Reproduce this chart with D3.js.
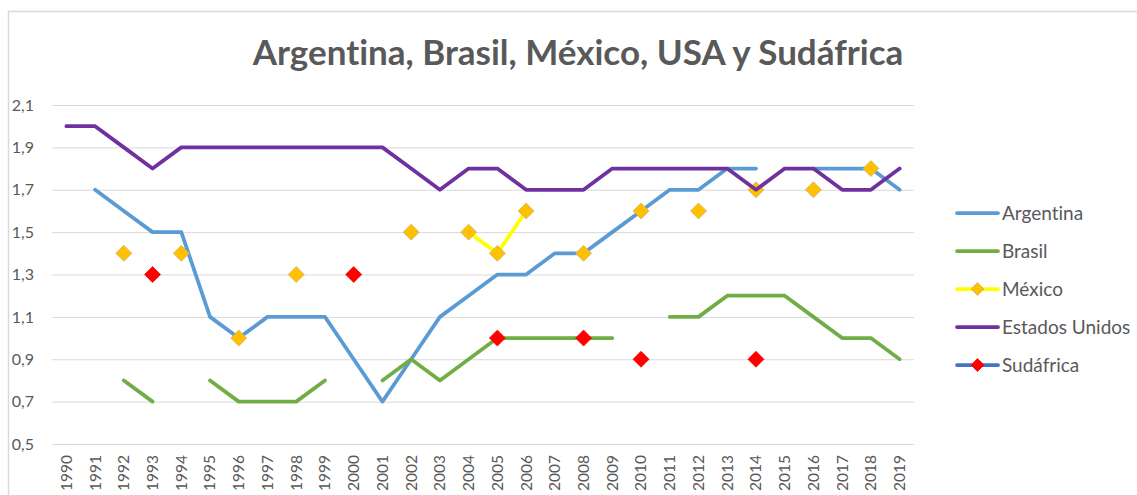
<!DOCTYPE html>
<html>
<head>
<meta charset="utf-8">
<script src="https://cdn.jsdelivr.net/npm/d3@7"></script>
<style>
  html, body { margin: 0; padding: 0; background: #fff; }
  svg { display: block; }
  svg text { font-variant-ligatures: none; font-feature-settings: "liga" 0, "clig" 0; }
</style>
</head>
<body>
<svg id="chart" width="1137" height="495"></svg>
<script>
// Years on the category axis
const years = d3.range(1990, 2020).map(String);

// Values per country (null = no data for that year)
const argentina = [null, 1.7, 1.6, 1.5, 1.5, 1.1, 1.0, 1.1, 1.1, 1.1,
                   0.9, 0.7, 0.9, 1.1, 1.2, 1.3, 1.3, 1.4, 1.4, 1.5,
                   1.6, 1.7, 1.7, 1.8, 1.8, null, 1.8, 1.8, 1.8, 1.7];
const brasil    = [null, null, 0.8, 0.7, null, 0.8, 0.7, 0.7, 0.7, 0.8,
                   null, 0.8, 0.9, 0.8, 0.9, 1.0, 1.0, 1.0, 1.0, 1.0,
                   null, 1.1, 1.1, 1.2, 1.2, 1.2, 1.1, 1.0, 1.0, 0.9];
const mexico    = [null, null, 1.4, null, 1.4, null, 1.0, null, 1.3, null,
                   null, null, 1.5, null, 1.5, 1.4, 1.6, null, 1.4, null,
                   1.6, null, 1.6, null, 1.7, null, 1.7, null, 1.8, null];
const usa       = [2.0, 2.0, 1.9, 1.8, 1.9, 1.9, 1.9, 1.9, 1.9, 1.9,
                   1.9, 1.9, 1.8, 1.7, 1.8, 1.8, 1.7, 1.7, 1.7, 1.8,
                   1.8, 1.8, 1.8, 1.8, 1.7, 1.8, 1.8, 1.7, 1.7, 1.8];
const sudafrica = [null, null, null, 1.3, null, null, null, null, null, null,
                   1.3, null, null, null, null, 1.0, null, null, 1.0, null,
                   0.9, null, null, null, 0.9, null, null, null, null, null];

// Y-axis ticks as printed (comma decimals)
const yTicks = [0.5, 0.7, 0.9, 1.1, 1.3, 1.5, 1.7, 1.9, 2.1];

const title = "Argentina, Brasil, México, USA y Sudáfrica";

const series = [
  { name: "Argentina",      values: argentina, line: "#5B9BD5", marker: null },
  { name: "Brasil",         values: brasil,    line: "#70AD47", marker: null },
  { name: "México",         values: mexico,    line: "#FFFF00", marker: { fill: "#FFC000", stroke: "#C8B27A" } },
  { name: "Estados Unidos", values: usa,       line: "#7030A0", marker: null },
  { name: "Sudáfrica",      values: sudafrica, line: "#4472C4", marker: { fill: "#FF0000", stroke: "#FF0000" } }
];

const svg = d3.select("#chart");
const FONT = "Lato, 'Open Sans', 'Liberation Sans', sans-serif";
const TEXT = "#595959";
const GRID = "#D9D9D9";

const plot = { left: 52, right: 914, top: 105, bottom: 444 };

const x = d3.scaleBand().domain(years).range([plot.left, plot.right]).padding(0);
const y = d3.scaleLinear().domain([0.5, 2.1]).range([plot.bottom, plot.top]);
const cx = yr => x(yr) + x.bandwidth() / 2;

// Chart frame (only the top and left edges fall inside the view)
svg.append("rect")
  .attr("x", 8.5).attr("y", 11.5)
  .attr("width", 1200).attr("height", 600)
  .attr("fill", "none").attr("stroke", GRID).attr("stroke-width", 1.5);

// Title
svg.append("text")
  .attr("x", 578).attr("y", 65)
  .attr("text-anchor", "middle")
  .attr("font-family", FONT).attr("font-weight", "bold")
  .attr("font-size", 35).attr("fill", TEXT)
  .text(title);

// Horizontal gridlines + y labels
const yAxis = d3.axisLeft(y)
  .tickValues(yTicks)
  .tickSize(-(plot.right - plot.left))
  .tickPadding(18)
  .tickFormat(d => d3.format(".1f")(d).replace(".", ","));

const gy = svg.append("g")
  .attr("transform", `translate(${plot.left},0)`)
  .call(yAxis);
gy.select(".domain").remove();
gy.selectAll(".tick line").attr("stroke", GRID).attr("stroke-width", 1);
gy.selectAll(".tick text")
  .attr("font-family", FONT).attr("font-size", 16).attr("fill", TEXT);

// Category axis: rotated year labels
const xAxis = d3.axisBottom(x).tickSize(0).tickPadding(0);
const gx = svg.append("g")
  .attr("transform", `translate(0,${plot.bottom})`)
  .call(xAxis);
gx.select(".domain").remove();
gx.selectAll(".tick text")
  .attr("font-family", FONT).attr("font-size", 15.5).attr("fill", TEXT)
  .attr("transform", "rotate(-90)")
  .attr("text-anchor", "end")
  .attr("x", -11).attr("y", 0).attr("dy", "0.35em");

// Lines and markers
const line = d3.line()
  .defined(d => d.v != null)
  .x(d => cx(d.year))
  .y(d => y(d.v));

const diamond = (px, py, r) =>
  `M${px},${py - r}L${px + r},${py}L${px},${py + r}L${px - r},${py}Z`;

series.forEach(s => {
  const pts = years.map((yr, i) => ({ year: yr, v: s.values[i] }));
  const g = svg.append("g");
  g.append("path")
    .datum(pts)
    .attr("d", line)
    .attr("fill", "none")
    .attr("stroke", s.line)
    .attr("stroke-width", 3.75)
    .attr("stroke-linecap", "round")
    .attr("stroke-linejoin", "round");
  if (s.marker) {
    g.selectAll("path.m")
      .data(pts.filter(d => d.v != null))
      .join("path")
      .attr("class", "m")
      .attr("d", d => diamond(cx(d.year), y(d.v), 8))
      .attr("fill", s.marker.fill)
      .attr("stroke", s.marker.stroke)
      .attr("stroke-width", 0.75);
  }
});

// Legend
const legend = svg.append("g");
const legY = d3.scalePoint().domain(series.map(s => s.name)).range([213, 365]);
series.forEach(s => {
  const ly = legY(s.name);
  legend.append("line")
    .attr("x1", 957).attr("x2", 998)
    .attr("y1", ly).attr("y2", ly)
    .attr("stroke", s.line).attr("stroke-width", 3.75)
    .attr("stroke-linecap", "round");
  if (s.marker) {
    legend.append("path")
      .attr("d", diamond(977.5, ly, 6.5))
      .attr("fill", s.marker.fill)
      .attr("stroke", s.marker.stroke)
      .attr("stroke-width", 0.75);
  }
  legend.append("text")
    .attr("x", 1002).attr("y", ly)
    .attr("dy", "0.35em")
    .attr("font-family", FONT).attr("font-size", 19).attr("fill", TEXT)
    .text(s.name);
});
</script>
</body>
</html>
